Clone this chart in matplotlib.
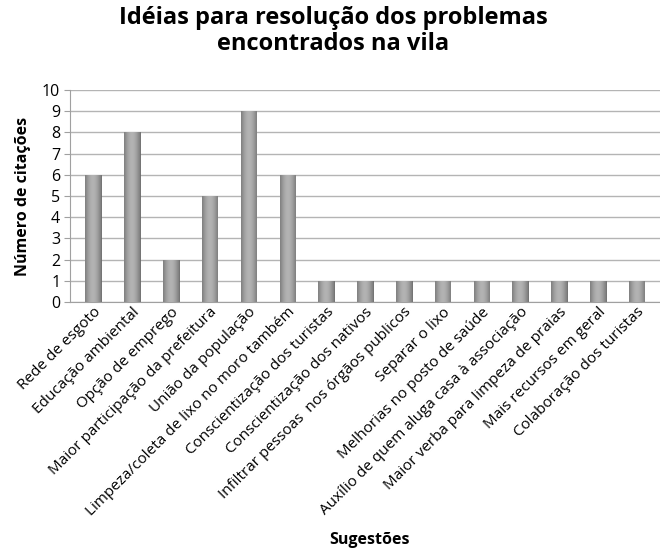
import matplotlib.pyplot as plt
import numpy as np

categorias = [
    'Rede de esgoto',
    'Educação ambiental',
    'Opção de emprego',
    'Maior participação da prefeitura',
    'União da população',
    'Limpeza/coleta de lixo no moro também',
    'Conscientização dos turistas',
    'Conscientização dos nativos',
    'Infiltrar pessoas  nos órgãos publicos',
    'Separar o lixo',
    'Melhorias no posto de saúde',
    'Auxílio de quem aluga casa à associação',
    'Maior verba para limpeza de praias',
    'Mais recursos em geral',
    'Colaboração dos turistas',
]
citacoes = [6, 8, 2, 5, 9, 6, 1, 1, 1, 1, 1, 1, 1, 1, 1]

plt.rcParams['font.family'] = ['Open Sans', 'DejaVu Sans']

fig = plt.figure(figsize=(6.6, 5.52), dpi=100)
ax = fig.add_axes([0.106, 0.453, 0.894, 0.384])

x = np.arange(len(categorias))
bars = ax.bar(x, citacoes, width=0.4, color='#8a8a8a', edgecolor='#666666',
              linewidth=0.6, zorder=2)

# cylinder-like shading on each bar
grad = np.linspace(0, 1, 64)
shade = 0.40 + 0.30 * np.sin(np.pi * (0.1 + 0.8 * grad))
img = np.tile(shade, (2, 1))
for b in bars:
    x0, w, h = b.get_x(), b.get_width(), b.get_height()
    im = ax.imshow(img, cmap='gray', vmin=0, vmax=1, aspect='auto',
                   extent=(x0, x0 + w, 0, h), zorder=3, interpolation='bicubic')
    im.set_clip_path(b)

ax.set_xlim(-0.6, len(categorias) - 0.4)
ax.set_ylim(0, 10)
ax.set_yticks(range(0, 11))
ax.yaxis.grid(True, color='#b4b4b4', linewidth=1.0, zorder=0)
ax.set_axisbelow(True)
for s in ['top', 'right']:
    ax.spines[s].set_visible(False)
ax.spines['left'].set_color('#a0a0a0')
ax.spines['bottom'].set_color('#a0a0a0')
ax.tick_params(axis='y', length=4, color='#a0a0a0', labelsize=11.5, pad=3)
ax.tick_params(axis='x', length=0, pad=2)

ax.set_xticks(x)
ax.set_xticklabels(categorias, rotation=45, ha='right', rotation_mode='anchor',
                   fontsize=11)
for lbl in ax.get_xticklabels():
    lbl.set_x(lbl.get_position()[0])

ax.set_ylabel('Número de citações', fontsize=11.5, fontweight='bold', labelpad=8)
fig.text(0.56, 0.008, 'Sugestões', ha='center', va='bottom',
         fontsize=11.5, fontweight='bold')
fig.text(0.505, 0.99, 'Idéias para resolução dos problemas\nencontrados na vila',
         ha='center', va='top', fontsize=17, fontweight='bold', linespacing=1.15)

fig.savefig('out.png', dpi=100, facecolor='white')
